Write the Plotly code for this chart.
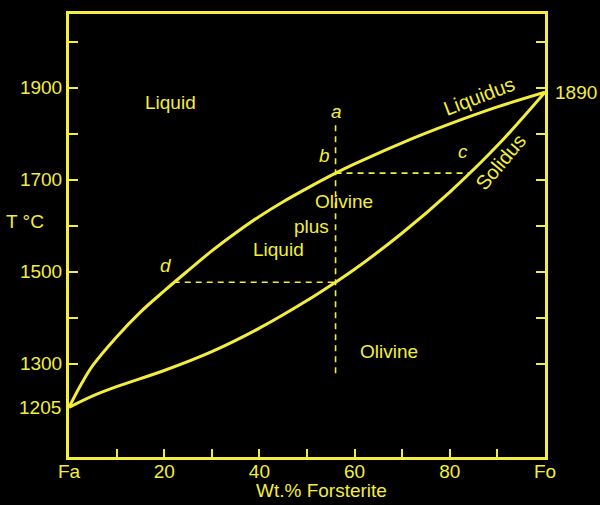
import plotly.graph_objects as go

# ---- data ----
liquidus_x = [0, 2.5, 5, 10, 15, 20, 25, 30, 35, 40, 45, 50, 56, 60, 70, 80, 90, 100]
liquidus_T = [1205, 1254, 1296, 1358, 1412, 1458, 1502, 1545, 1584, 1620, 1652, 1681,
              1714, 1734, 1780, 1821, 1858, 1890]

solidus_x = [0, 5, 10, 20, 30, 40, 50, 56, 60, 70, 80, 90, 100]
solidus_T = [1205, 1230, 1250, 1285, 1326, 1377, 1437, 1477, 1505, 1584, 1673, 1774, 1890]

bulk_x = [56, 56]
bulk_T = [1818, 1268]
tie1_x = [56, 84]
tie1_T = [1714, 1714]
tie2_x = [22, 56]
tie2_T = [1477, 1477]

x_tickvals = [0, 10, 20, 30, 40, 50, 60, 70, 80, 90, 100]
x_ticktext = ["Fa", "", "20", "", "40", "", "60", "", "80", "", "Fo"]
y_tickvals = [1300, 1400, 1500, 1600, 1700, 1800, 1900, 2000]
y_ticktext = ["1300", "", "1500", "", "1700", "", "1900", ""]

YEL = "#f3ee3e"
FONT = "Liberation Sans, Arial, sans-serif"

fig = go.Figure()
fig.add_trace(go.Scatter(x=liquidus_x, y=liquidus_T, mode="lines",
                         line=dict(color=YEL, width=3, shape="spline", smoothing=1),
                         hoverinfo="skip"))
fig.add_trace(go.Scatter(x=solidus_x, y=solidus_T, mode="lines",
                         line=dict(color=YEL, width=3, shape="spline", smoothing=1),
                         hoverinfo="skip"))
for xs, ys in [(bulk_x, bulk_T), (tie1_x, tie1_T), (tie2_x, tie2_T)]:
    fig.add_trace(go.Scatter(x=xs, y=ys, mode="lines",
                             line=dict(color=YEL, width=1.6, dash="6px,5px"),
                             hoverinfo="skip"))

def ann(text, x, y, size=19, angle=0, **kw):
    fig.add_annotation(text=text, x=x, y=y, showarrow=False, textangle=angle,
                       font=dict(color=YEL, size=size, family=FONT), **kw)

ann("Liquid", 21.4, 1868)
ann("<i>a</i>", 56.1, 1849)
ann("<i>b</i>", 53.6, 1753)
ann("<i>c</i>", 82.7, 1762)
ann("<i>d</i>", 20.3, 1514)
ann("Olivine", 57.8, 1653)
ann("plus", 51, 1599)
ann("Liquid", 44, 1547)
ann("Olivine", 67.3, 1327)
ann("Liquidus", 86.3, 1881, size=20, angle=-21)
ann("Solidus", 90.7, 1738, size=20, angle=-50)
ann("1890", 1, 1890, xref="paper", xanchor="left", yanchor="middle", xshift=8)
ann("1205", 0, 1205, xref="paper", xanchor="right", yanchor="middle", xshift=-6)
ann("T °C", -0.092, 1608, xref="paper", xanchor="center", yanchor="middle")
ann("Wt.% Forsterite", 0.531, -0.0745, xref="paper", yref="paper",
    xanchor="center", yanchor="middle")

fig.update_layout(
    width=600, height=505,
    margin=dict(l=69, r=55, t=14, b=48),
    paper_bgcolor="black", plot_bgcolor="black",
    showlegend=False,
    font=dict(family=FONT, color=YEL, size=19),
    xaxis=dict(range=[0, 100], tickvals=x_tickvals, ticktext=x_ticktext,
               ticks="inside", ticklen=8, tickwidth=2, tickcolor=YEL,
               showline=True, linecolor=YEL, linewidth=3, mirror=True,
               showgrid=False, zeroline=False, ticklabelstandoff=-5,
               tickfont=dict(color=YEL, size=19, family=FONT)),
    yaxis=dict(range=[1097, 2060], tickvals=y_tickvals, ticktext=y_ticktext,
               ticks="inside", ticklen=9, tickwidth=2, tickcolor=YEL,
               showline=True, linecolor=YEL, linewidth=3, mirror="ticks",
               showgrid=False, zeroline=False,
               tickfont=dict(color=YEL, size=19, family=FONT)),
)

fig.write_html("out.html", config={"displayModeBar": False},
               post_script="document.body.style.margin='0';")
